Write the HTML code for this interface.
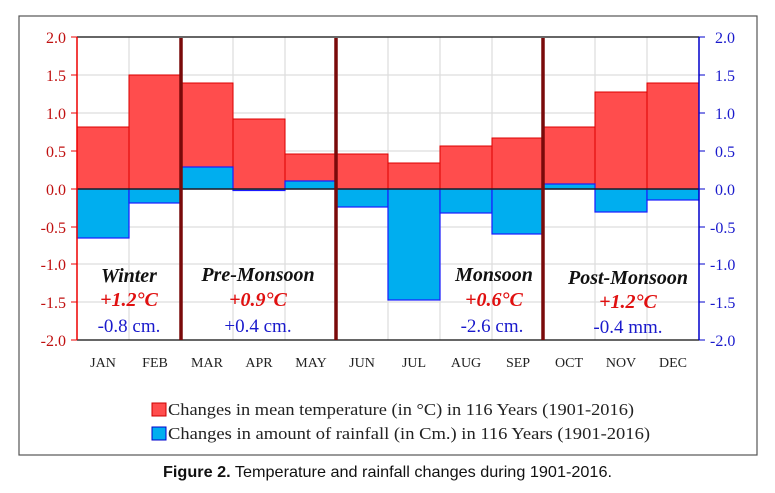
<!DOCTYPE html><html><head><style>body{margin:0;background:#fff;width:775px;height:488px;overflow:hidden}</style></head><body>
<svg width="775" height="488" xmlns="http://www.w3.org/2000/svg" font-family="Liberation Serif, serif">
<rect x="19" y="16" width="738" height="439" fill="#fff" stroke="#555" stroke-width="1.2"/>
<g stroke="#ddd" stroke-width="1.2">
<line x1="77" y1="75" x2="699" y2="75"/><line x1="77" y1="113" x2="699" y2="113"/><line x1="77" y1="151" x2="699" y2="151"/>
<line x1="77" y1="227" x2="699" y2="227"/><line x1="77" y1="264" x2="699" y2="264"/><line x1="77" y1="302" x2="699" y2="302"/>
<line x1="129" y1="37" x2="129" y2="340"/><line x1="233" y1="37" x2="233" y2="340"/><line x1="285" y1="37" x2="285" y2="340"/><line x1="388" y1="37" x2="388" y2="340"/><line x1="440" y1="37" x2="440" y2="340"/><line x1="492" y1="37" x2="492" y2="340"/><line x1="595" y1="37" x2="595" y2="340"/><line x1="647" y1="37" x2="647" y2="340"/>
</g>
<g fill="#ff4d4d" stroke="#d00" stroke-width="1">
<rect x="77" y="127" width="52" height="62"/><rect x="129" y="75" width="52" height="114"/><rect x="181" y="83" width="52" height="106"/><rect x="233" y="119" width="52" height="70"/><rect x="285" y="154" width="51" height="35"/><rect x="336" y="154" width="52" height="35"/><rect x="388" y="163" width="52" height="26"/><rect x="440" y="146" width="52" height="43"/><rect x="492" y="138" width="51" height="51"/><rect x="543" y="127" width="52" height="62"/><rect x="595" y="92" width="52" height="97"/><rect x="647" y="83" width="52" height="106"/>
</g>
<g fill="#00aeef" stroke="#1a1aff" stroke-width="1.2">
<rect x="77" y="189" width="52" height="49"/><rect x="129" y="189" width="52" height="14"/><rect x="181" y="167" width="52" height="22"/><rect x="233" y="189" width="52" height="1.5"/><rect x="285" y="181" width="51" height="8"/><rect x="336" y="189" width="52" height="18"/><rect x="388" y="189" width="52" height="111"/><rect x="440" y="189" width="52" height="24"/><rect x="492" y="189" width="51" height="45"/><rect x="543" y="184" width="52" height="5"/><rect x="595" y="189" width="52" height="23"/><rect x="647" y="189" width="52" height="11"/>
</g>
<line x1="77" y1="189" x2="699" y2="189" stroke="#222" stroke-width="1.5"/>
<line x1="77" y1="37" x2="699" y2="37" stroke="#333" stroke-width="1.5"/>
<line x1="77" y1="340" x2="699" y2="340" stroke="#333" stroke-width="1.5"/>
<g stroke="#7a0a0a" stroke-width="3.5"><line x1="181" y1="38" x2="181" y2="340"/><line x1="336" y1="38" x2="336" y2="340"/><line x1="543" y1="38" x2="543" y2="340"/></g>
<line x1="77" y1="37" x2="77" y2="340" stroke="#e00" stroke-width="1.5"/>
<line x1="699" y1="37" x2="699" y2="340" stroke="#00c" stroke-width="1.5"/>
<g font-size="16" fill="#c01010" text-anchor="end">
<text x="66" y="43">2.0</text><text x="66" y="81">1.5</text><text x="66" y="119">1.0</text><text x="66" y="157">0.5</text><text x="66" y="195">0.0</text><text x="66" y="233">-0.5</text><text x="66" y="270">-1.0</text><text x="66" y="308">-1.5</text><text x="66" y="346">-2.0</text></g>
<g stroke="#e00"><line x1="71" y1="37" x2="77" y2="37"/><line x1="71" y1="75" x2="77" y2="75"/><line x1="71" y1="113" x2="77" y2="113"/><line x1="71" y1="151" x2="77" y2="151"/><line x1="71" y1="189" x2="77" y2="189"/><line x1="71" y1="227" x2="77" y2="227"/><line x1="71" y1="264" x2="77" y2="264"/><line x1="71" y1="302" x2="77" y2="302"/><line x1="71" y1="340" x2="77" y2="340"/></g>
<g stroke="#00c"><line x1="699" y1="37" x2="705" y2="37"/><line x1="699" y1="75" x2="705" y2="75"/><line x1="699" y1="113" x2="705" y2="113"/><line x1="699" y1="151" x2="705" y2="151"/><line x1="699" y1="189" x2="705" y2="189"/><line x1="699" y1="227" x2="705" y2="227"/><line x1="699" y1="264" x2="705" y2="264"/><line x1="699" y1="302" x2="705" y2="302"/><line x1="699" y1="340" x2="705" y2="340"/></g>
<g font-size="16" fill="#1a1acc" text-anchor="start">
<text x="715" y="43">2.0</text><text x="715" y="81">1.5</text><text x="715" y="119">1.0</text><text x="715" y="157">0.5</text><text x="715" y="195">0.0</text><text x="710" y="233">-0.5</text><text x="710" y="270">-1.0</text><text x="710" y="308">-1.5</text><text x="710" y="346">-2.0</text></g>
<g font-size="14" fill="#222" text-anchor="middle">
<text x="103" y="367">JAN</text><text x="155" y="367">FEB</text><text x="207" y="367">MAR</text><text x="259" y="367">APR</text><text x="311" y="367">MAY</text><text x="362" y="367">JUN</text><text x="414" y="367">JUL</text><text x="466" y="367">AUG</text><text x="518" y="367">SEP</text><text x="569" y="367">OCT</text><text x="621" y="367">NOV</text><text x="673" y="367">DEC</text></g>
<g font-size="20" font-weight="bold" font-style="italic" text-anchor="middle" fill="#111">
<text x="129" y="282">Winter</text><text x="258" y="281">Pre-Monsoon</text><text x="494" y="281">Monsoon</text><text x="628" y="284">Post-Monsoon</text></g>
<g font-size="20" font-weight="bold" font-style="italic" text-anchor="middle" fill="#e01010">
<text x="129" y="306">+1.2°C</text><text x="258" y="306">+0.9°C</text><text x="494" y="306">+0.6°C</text><text x="628" y="308">+1.2°C</text></g>
<g font-size="19" text-anchor="middle" fill="#1a1acc">
<text x="129" y="332">-0.8 cm.</text><text x="258" y="332">+0.4 cm.</text><text x="492" y="332">-2.6 cm.</text><text x="628" y="333">-0.4 mm.</text></g>
<rect x="152" y="403" width="14" height="13" fill="#ff4d4d" stroke="#c00"/>
<rect x="152" y="427" width="14" height="13" fill="#00aeef" stroke="#00c"/>
<g font-size="17" fill="#222"><text x="168" y="415" textLength="466" lengthAdjust="spacingAndGlyphs">Changes in mean temperature (in °C) in 116 Years (1901-2016)</text><text x="168" y="439" textLength="482" lengthAdjust="spacingAndGlyphs">Changes in amount of rainfall (in Cm.) in 116 Years (1901-2016)</text></g>
<text x="163" y="477" textLength="449" lengthAdjust="spacingAndGlyphs" font-family="Liberation Sans, sans-serif" font-size="16" fill="#111"><tspan font-weight="bold">Figure 2.</tspan> Temperature and rainfall changes during 1901-2016.</text>
</svg></body></html>
